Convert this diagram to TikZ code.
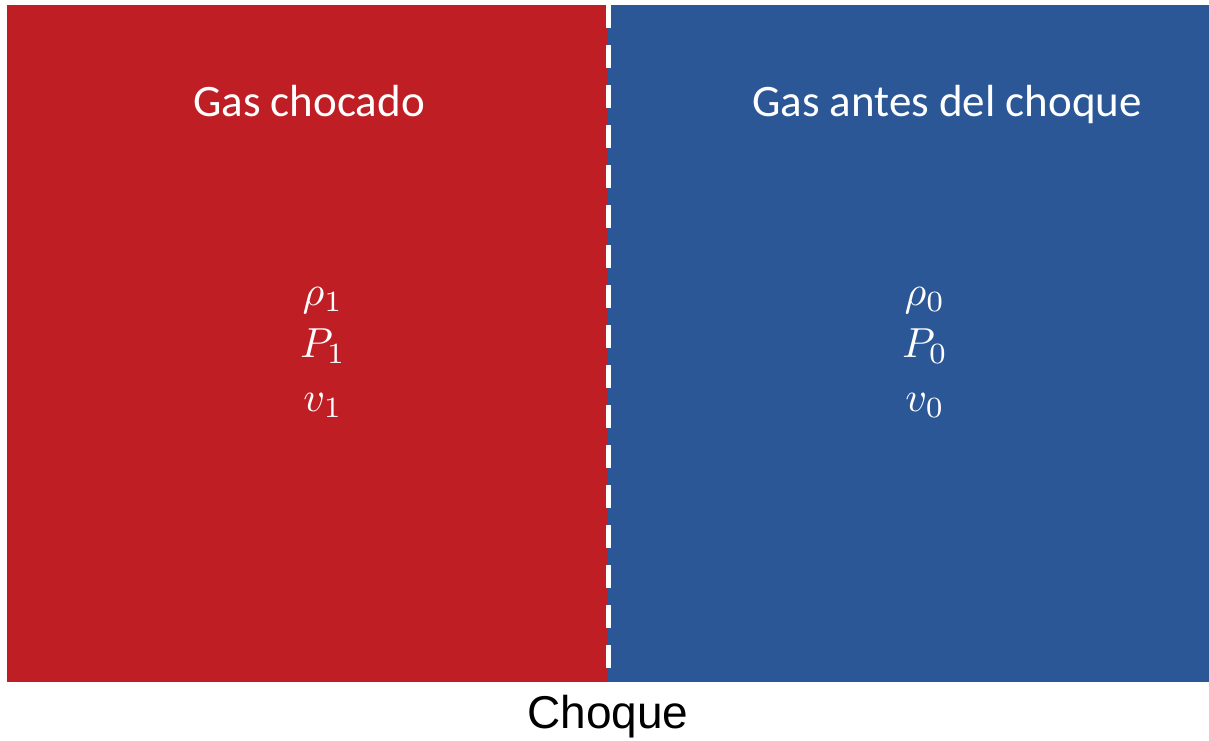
\documentclass[tikz,border=0pt]{standalone}
\usepackage{graphicx}
\usepackage{fontspec}
\setmainfont{Carlito}
\newfontfamily\arialfont{Liberation Sans}
\definecolor{shockred}{RGB}{190,30,36}
\definecolor{shockblue}{RGB}{43,87,150}
\newcommand{\bigmath}[1]{\scalebox{4.2}{$#1$}}
\begin{document}
\begin{tikzpicture}[x=1pt,y=-1pt,
  title/.style={text=white,font=\fontsize{45}{52}\selectfont,inner sep=0pt,anchor=base},
  mathlbl/.style={text=white,inner sep=0pt,anchor=base},
  shockline/.style={white,line width=5pt,dash pattern=on 23pt off 17pt}]
\useasboundingbox (0,0) rectangle (1209,740);
\fill[shockred] (7,5) rectangle (608,682);
\fill[shockblue] (608,5) rectangle (1209,682);
\coordinate (shocktop) at (608,5);
\coordinate (shockbot) at (608,682);
\draw[shockline] (shocktop) -- (shockbot);
\node[title] (tl) at (309,116) {Gas chocado};
\node[title] (tr) at (947,116) {Gas antes del choque};
\node[mathlbl] (r1) at (323,305) {\bigmath{\rho_1}};
\node[mathlbl] (p1) at (323,357) {\bigmath{P_1}};
\node[mathlbl] (v1) at (323,411) {\bigmath{v_1}};
\node[mathlbl] (r0) at (925,305) {\bigmath{\rho_0}};
\node[mathlbl] (p0) at (925,357) {\bigmath{P_0}};
\node[mathlbl] (v0) at (925,411) {\bigmath{v_0}};
\node[inner sep=0pt,anchor=base,font=\arialfont\fontsize{46}{52}\selectfont] (ch) at (608,728) {Choque};
\end{tikzpicture}
\end{document}
